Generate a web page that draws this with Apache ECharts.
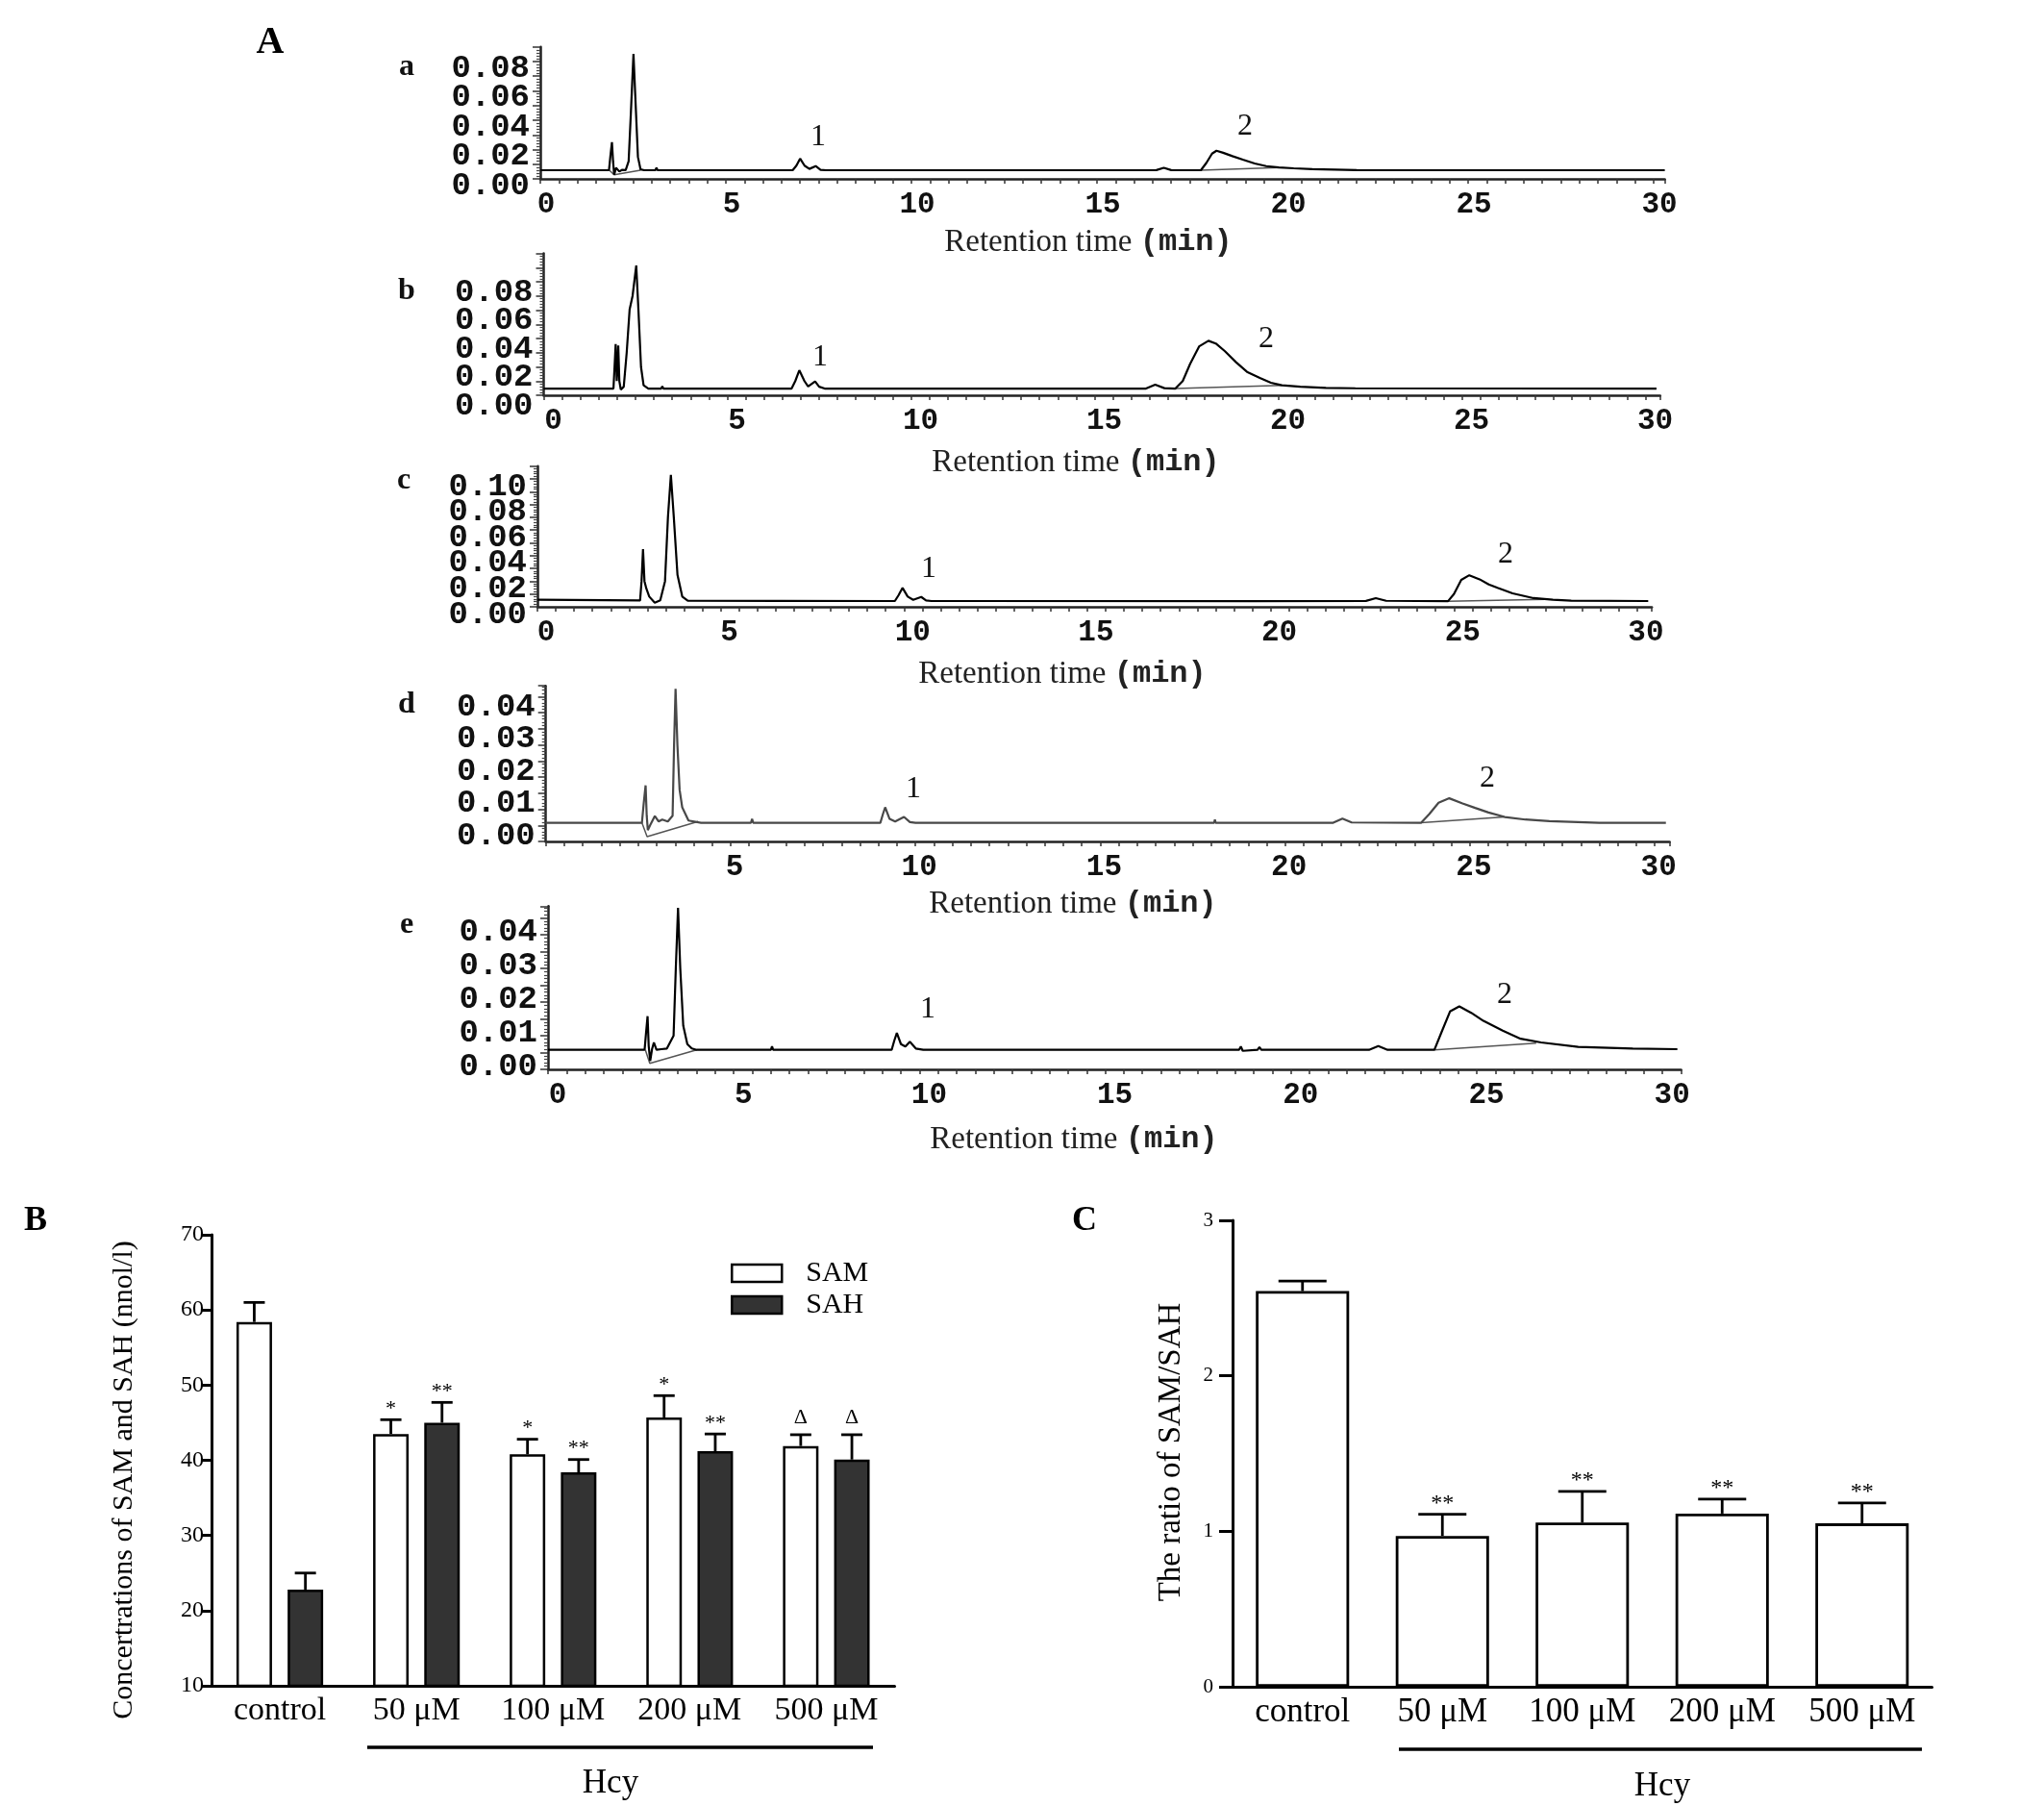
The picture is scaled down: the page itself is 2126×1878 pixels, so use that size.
<!DOCTYPE html>
<html><head><meta charset="utf-8">
<script src="https://cdn.jsdelivr.net/npm/echarts@6/dist/echarts.min.js"></script>
<style>html,body{margin:0;padding:0;background:#fff}#c{width:2126px;height:1878px}</style>
</head><body><div id="c"></div>
<script>
// ===== Panel A: HPLC chromatograms, [retention time (min), absorbance] =====
const traceA = [[0,0.0059],[1.85,0.0059],[1.89,0.016],[1.93,0.025],[1.96,0.012],[1.99,0.0028],[2.04,0.0075],[2.08,0.0087],[2.13,0.005],[2.2,0.0062],[2.3,0.006],[2.38,0.012],[2.44,0.045],[2.51,0.0852],[2.57,0.05],[2.63,0.015],[2.7,0.0065],[2.8,0.0059],[3.1,0.0059],[3.13,0.0075],[3.16,0.0059],[4.5,0.0059],[4.53,0.007],[4.56,0.0059],[6.8,0.0059],[6.9,0.009],[7.0,0.0138],[7.12,0.009],[7.25,0.0068],[7.42,0.0087],[7.55,0.0062],[7.7,0.0059],[14.2,0.0059],[14.25,0.0068],[14.3,0.0059],[16.6,0.006],[16.8,0.0075],[17.0,0.006],[17.8,0.0059],[17.95,0.011],[18.1,0.0172],[18.22,0.0192],[18.4,0.0178],[18.65,0.0155],[18.93,0.0131],[19.25,0.0105],[19.56,0.0087],[19.9,0.0078],[20.3,0.0072],[20.8,0.0066],[22,0.006],[30.3,0.0059]];
const baseA = [[[1.86,0.0059],[1.99,0.0028],[2.7,0.0059]], [[17.8,0.0059],[19.9,0.0077]]];

const traceB = [[0,0.0047],[1.9,0.0047],[1.93,0.02],[1.96,0.036],[1.99,0.01],[2.01,0.02],[2.03,0.035],[2.06,0.01],[2.1,0.004],[2.18,0.006],[2.26,0.03],[2.34,0.0605],[2.42,0.07],[2.52,0.0915],[2.58,0.06],[2.65,0.02],[2.72,0.007],[2.85,0.0047],[3.2,0.0047],[3.23,0.0062],[3.26,0.0047],[6.75,0.0047],[6.85,0.01],[6.96,0.0176],[7.1,0.01],[7.2,0.0062],[7.39,0.0097],[7.5,0.006],[7.65,0.0047],[16.4,0.0047],[16.65,0.0075],[16.9,0.005],[17.2,0.0047],[17.4,0.01],[17.6,0.022],[17.85,0.0345],[18.1,0.0384],[18.3,0.0365],[18.55,0.031],[18.85,0.0233],[19.15,0.0165],[19.5,0.0122],[19.8,0.0088],[20.1,0.007],[20.6,0.006],[21.3,0.0052],[22.1,0.0049],[30.3,0.0047]];
const baseB = [[[17.2,0.0047],[20.1,0.007]]];

const traceC = [[0,0.0055],[2.8,0.005],[2.84,0.02],[2.88,0.045],[2.92,0.02],[2.97,0.0143],[3.05,0.008],[3.2,0.0032],[3.35,0.005],[3.48,0.02],[3.56,0.07],[3.64,0.1032],[3.72,0.07],[3.82,0.025],[3.95,0.008],[4.1,0.0048],[6.55,0.0046],[6.6,0.006],[6.65,0.0046],[9.75,0.0045],[9.85,0.009],[9.96,0.0148],[10.1,0.008],[10.25,0.0055],[10.47,0.0077],[10.6,0.005],[10.75,0.0045],[12.0,0.0045],[12.03,0.0055],[12.06,0.0045],[19.5,0.0044],[19.53,0.0055],[19.56,0.0044],[22.6,0.0046],[22.87,0.0068],[23.15,0.0047],[24.84,0.0044],[25.0,0.01],[25.2,0.021],[25.42,0.0247],[25.7,0.0215],[25.95,0.0175],[26.19,0.0148],[26.6,0.0105],[27.17,0.0068],[27.7,0.0055],[28.2,0.0048],[30.3,0.0045]];
const baseC = [[[24.84,0.0044],[27.5,0.0058]]];

const traceD = [[0,0.0058],[2.6,0.0058],[2.65,0.012],[2.7,0.0174],[2.73,0.008],[2.76,0.0035],[2.82,0.005],[2.95,0.0079],[3.05,0.0062],[3.15,0.0068],[3.3,0.0062],[3.43,0.008],[3.47,0.03],[3.51,0.0474],[3.56,0.03],[3.62,0.016],[3.69,0.0106],[3.86,0.0065],[4.2,0.0058],[5.55,0.0058],[5.58,0.007],[5.61,0.0058],[9.05,0.0058],[9.12,0.0085],[9.18,0.0106],[9.3,0.007],[9.45,0.0062],[9.69,0.0076],[9.85,0.006],[10,0.0058],[18.08,0.0058],[18.1,0.0068],[18.12,0.0058],[21.3,0.0058],[21.55,0.0071],[21.8,0.0059],[23.68,0.0058],[23.9,0.0085],[24.15,0.012],[24.44,0.0134],[24.8,0.0118],[25.14,0.0104],[25.5,0.009],[25.94,0.0076],[26.5,0.0068],[27.15,0.0063],[28.5,0.0058],[30.3,0.0058]];
const baseD = [[[2.6,0.0058],[2.74,0.0015],[4.12,0.0062]], [[23.68,0.0058],[25.94,0.0076]]];

const traceE = [[0,0.0058],[2.6,0.0058],[2.64,0.011],[2.68,0.0158],[2.71,0.007],[2.75,0.0025],[2.8,0.006],[2.85,0.008],[2.92,0.0058],[3.05,0.006],[3.2,0.0062],[3.38,0.01],[3.44,0.03],[3.5,0.048],[3.56,0.03],[3.64,0.013],[3.75,0.0075],[3.87,0.0062],[4.0,0.0058],[6.0,0.0058],[6.03,0.0068],[6.06,0.0058],[9.25,0.0058],[9.32,0.0085],[9.39,0.0108],[9.5,0.0075],[9.62,0.0068],[9.74,0.0082],[9.9,0.0062],[10.1,0.0058],[18.6,0.0058],[18.65,0.0068],[18.7,0.0055],[19.1,0.0058],[19.15,0.0066],[19.2,0.0058],[22.1,0.0058],[22.35,0.0069],[22.6,0.0058],[23.86,0.0058],[24.05,0.011],[24.28,0.0172],[24.53,0.0187],[24.85,0.0168],[25.18,0.0144],[25.7,0.0115],[26.18,0.0091],[26.73,0.008],[27.73,0.0067],[29.2,0.0062],[30.4,0.006]];
const baseE = [[[2.62,0.0058],[2.74,0.0018],[4.0,0.0058]], [[23.86,0.0058],[26.6,0.0078]]];

const panelLetters = ['a','b','c','d','e'];
const peakNames = ['1','2'];

// ===== Panel B: SAM / SAH concentrations (nmol/l) =====
const groups = ['control','50 μM','100 μM','200 μM','500 μM'];
const samMean = [58.4, 43.5, 40.8, 45.7, 41.9];
const samUpper = [61.0, 45.4, 42.8, 48.6, 43.4];
const sahMean = [22.8, 45.0, 38.4, 41.2, 40.1];
const sahUpper = [25.0, 47.7, 40.1, 43.5, 43.4];
const samMark = ['', '*', '*', '*', 'Δ'];
const sahMark = ['', '**', '**', '**', 'Δ'];
const bTicks = [10, 20, 30, 40, 50, 60, 70];

// ===== Panel C: SAM/SAH ratio =====
const ratioMean = [2.545, 0.97, 1.056, 1.114, 1.051];
const ratioUpper = [2.61, 1.11, 1.257, 1.207, 1.182];
const ratioMark = ['', '**', '**', '**', '**'];
const cTicks = [0, 1, 2, 3];

// ---------------------------------------------------------------
const SERIF = '"Liberation Serif","Times New Roman",serif';
const MONO = '"Liberation Mono","Courier New",monospace';

const traces = [traceA, traceB, traceC, traceD, traceE];
const bases = [baseA, baseB, baseC, baseD, baseE];
const layout = [
  {left:562,   axisY:186,  ppm:38.6,  ppv:15.25, xMax:30.3, yMax:0.09,  yLab:0.02, yTick:0.01, dy:7,  dx:6,  zero:true,  color:'#000', letter:[423,70],  title:[1132,252], peaks:[[851,143],[1295,132]]},
  {left:565.5, axisY:411,  ppm:38.2,  ppv:14.75, xMax:30.4, yMax:0.10,  yLab:0.02, yTick:0.01, dy:11, dx:10, zero:true,  color:'#000', letter:[423,303], title:[1119,481], peaks:[[853,372],[1317,353]]},
  {left:559,   axisY:631,  ppm:38.13, ppv:13.3,  xMax:30.4, yMax:0.11,  yLab:0.02, yTick:0.01, dy:8,  dx:9,  zero:true,  color:'#000', letter:[420,500], title:[1105,701], peaks:[[966,592],[1566,577]]},
  {left:567.7, axisY:875,  ppm:38.45, ppv:33.5,  xMax:30.4, yMax:0.0483,yLab:0.01, yTick:0.005,dy:-6, dx:4,  zero:false, color:'#484848', letter:[423,733], title:[1116,940], peaks:[[950,821],[1547,810]]},
  {left:570,   axisY:1112, ppm:38.64, ppv:35,    xMax:30.5, yMax:0.0485,yLab:0.01, yTick:0.005,dy:-3, dx:10, zero:true,  color:'#000', letter:[423,962], title:[1117,1185], peaks:[[965,1050],[1565,1035]]}
];

const isMult = (v, s) => Math.abs(v / s - Math.round(v / s)) < 1e-6;

const grid = [], xAxis = [], yAxis = [], series = [], graphic = [];

layout.forEach((L, i) => {
  const h = L.yMax * L.ppv * 100;
  grid.push({left: L.left, top: L.axisY - h, width: L.xMax * L.ppm, height: h});
  xAxis.push({
    gridIndex: i, type: 'value', min: 0, max: L.xMax, interval: 0.5,
    axisLine: {lineStyle: {color: '#222', width: 2.5}},
    axisTick: {length: 5, lineStyle: {color: '#333', width: 1.5}},
    splitLine: {show: false},
    axisLabel: {
      formatter: v => (isMult(v, 5) && (L.zero || v > 0)) ? '{t|' + Math.round(v) + '}' : '',
      margin: 12,
      rich: {t: {fontFamily: MONO, fontWeight: 'bold', fontSize: 31, color: '#111', padding: [0, 0, 0, 2 * L.dx]}}
    }
  });
  yAxis.push({
    gridIndex: i, type: 'value', min: 0, max: L.yMax, interval: L.yTick,
    axisLine: {show: true, lineStyle: {color: '#222', width: 2.5}},
    axisTick: {show: true, length: 8, lineStyle: {color: '#333', width: 1.5}},
    minorTick: {show: true, splitNumber: 5, length: 4, lineStyle: {color: '#444', width: 1.2}},
    splitLine: {show: false}, minorSplitLine: {show: false},
    axisLabel: {
      formatter: v => (isMult(v, L.yLab) && v <= L.yMax - L.yLab * 0.3) ? '{t|' + v.toFixed(2) + '}' : '',
      margin: 11,
      rich: {t: {fontFamily: MONO, fontWeight: 'bold', fontSize: 34, color: '#111',
        padding: L.dy >= 0 ? [2 * L.dy, 0, 0, 0] : [0, 0, -2 * L.dy, 0]}}
    }
  });
  series.push({
    type: 'line', xAxisIndex: i, yAxisIndex: i, data: traces[i], showSymbol: false,
    lineStyle: {color: L.color, width: 2.2}, z: 3, silent: true, animation: false
  });
  bases[i].forEach(seg => series.push({
    type: 'line', xAxisIndex: i, yAxisIndex: i, data: seg, showSymbol: false,
    lineStyle: {color: '#555', width: 1.5}, z: 2, silent: true, animation: false
  }));
  graphic.push({type: 'text', x: L.letter[0], y: L.letter[1],
    style: {text: panelLetters[i], font: 'bold 32px ' + SERIF, fill: '#111', align: 'center', verticalAlign: 'middle'}});
  graphic.push({type: 'text', x: L.title[0], y: L.title[1],
    style: {text: '{s|Retention time }{m|(min)}', align: 'center', verticalAlign: 'middle',
      rich: {s: {font: '33px ' + SERIF, fill: '#222'}, m: {font: 'bold 32px ' + MONO, fill: '#222'}}}});
  L.peaks.forEach((p, k) => graphic.push({type: 'text', x: p[0], y: p[1],
    style: {text: peakNames[k], font: '32px ' + SERIF, fill: '#111', align: 'center', verticalAlign: 'middle'}}));
});

// ----- Panel B -----
const gB = grid.length;
grid.push({left: 220, top: 1284, width: 710.5, height: 469});
xAxis.push({gridIndex: gB, type: 'category', data: groups,
  axisLine: {lineStyle: {color: '#000', width: 3}}, axisTick: {show: false},
  axisLabel: {fontFamily: SERIF, fontSize: 34, color: '#000', margin: 9}});
yAxis.push({gridIndex: gB, type: 'value', min: bTicks[0], max: bTicks[bTicks.length - 1], interval: 10,
  axisLine: {show: true, lineStyle: {color: '#000', width: 3}},
  axisTick: {show: true, length: 10, lineStyle: {color: '#000', width: 3}},
  splitLine: {show: false},
  axisLabel: {fontFamily: SERIF, fontSize: 24, color: '#000', margin: 8}});
const BW = 0.26, BG = 0.44;
series.push({name: 'SAM', type: 'bar', xAxisIndex: gB, yAxisIndex: gB, data: samMean,
  barWidth: (BW * 100) + '%', barGap: (BG * 100) + '%',
  itemStyle: {color: '#fff', borderColor: '#000', borderWidth: 2.5}, animation: false});
series.push({name: 'SAH', type: 'bar', xAxisIndex: gB, yAxisIndex: gB, data: sahMean,
  barWidth: (BW * 100) + '%', barGap: (BG * 100) + '%',
  itemStyle: {color: '#333', borderColor: '#000', borderWidth: 2.5}, animation: false});

function errRender(side, bwFrac, gapFrac, cap, marks, font) {
  return function (params, api) {
    const i = api.value(0), m = api.value(1), u = api.value(2);
    const band = api.size([1, 0])[0];
    const bw = band * bwFrac;
    const off = side * bw * (1 + gapFrac) / 2;
    const p = api.coord([i, m]), q = api.coord([i, u]);
    const x = p[0] + off;
    const st = {stroke: '#000', lineWidth: 2.8};
    const mk = marks[params.dataIndex];
    const dyMark = mk === 'Δ' ? 18 : 11;
    return {type: 'group', children: [
      {type: 'line', shape: {x1: x, y1: p[1], x2: x, y2: q[1]}, style: st},
      {type: 'line', shape: {x1: x - cap / 2, y1: q[1], x2: x + cap / 2, y2: q[1]}, style: st},
      {type: 'text', x: x, y: q[1] - dyMark, style: {text: mk, font: font, fill: '#000', align: 'center', verticalAlign: 'middle'}}
    ]};
  };
}
series.push({type: 'custom', xAxisIndex: gB, yAxisIndex: gB, z: 4, animation: false,
  renderItem: errRender(-1, BW, BG, 22, samMark, '22px ' + SERIF),
  data: samMean.map((m, i) => [i, m, samUpper[i]])});
series.push({type: 'custom', xAxisIndex: gB, yAxisIndex: gB, z: 4, animation: false,
  renderItem: errRender(1, BW, BG, 22, sahMark, '22px ' + SERIF),
  data: sahMean.map((m, i) => [i, m, sahUpper[i]])});

// ----- Panel C -----
const gC = grid.length;
grid.push({left: 1282, top: 1269, width: 727.5, height: 485});
xAxis.push({gridIndex: gC, type: 'category', data: groups,
  axisLine: {lineStyle: {color: '#000', width: 3}}, axisTick: {show: false},
  axisLabel: {fontFamily: SERIF, fontSize: 35, color: '#000', margin: 9}});
yAxis.push({gridIndex: gC, type: 'value', min: cTicks[0], max: cTicks[cTicks.length - 1], interval: 1,
  axisLine: {show: true, lineStyle: {color: '#000', width: 3}},
  axisTick: {show: true, length: 14, lineStyle: {color: '#000', width: 3}},
  splitLine: {show: false},
  axisLabel: {fontFamily: SERIF, fontSize: 21, color: '#000', margin: 20}});
series.push({name: 'ratio', type: 'bar', xAxisIndex: gC, yAxisIndex: gC, data: ratioMean,
  barWidth: '66.7%', itemStyle: {color: '#fff', borderColor: '#000', borderWidth: 2.8}, animation: false});
series.push({type: 'custom', xAxisIndex: gC, yAxisIndex: gC, z: 4, animation: false,
  renderItem: errRender(0, 0.667, 0, 50, ratioMark, '24px ' + SERIF),
  data: ratioMean.map((m, i) => [i, m, ratioUpper[i]])});

// ----- labels and decorations -----
graphic.push(
  {type: 'text', x: 281, y: 45, style: {text: 'A', font: 'bold 40px ' + SERIF, fill: '#000', align: 'center', verticalAlign: 'middle'}},
  {type: 'text', x: 37, y: 1270, style: {text: 'B', font: 'bold 36px ' + SERIF, fill: '#000', align: 'center', verticalAlign: 'middle'}},
  {type: 'text', x: 1128, y: 1270, style: {text: 'C', font: 'bold 36px ' + SERIF, fill: '#000', align: 'center', verticalAlign: 'middle'}},
  {type: 'text', x: 129, y: 1539, rotation: Math.PI / 2,
    style: {text: 'Concertrations of SAM and SAH (nnol/l)', font: '30px ' + SERIF, fill: '#000', align: 'center', verticalAlign: 'middle'}},
  {type: 'text', x: 1218, y: 1510, rotation: Math.PI / 2,
    style: {text: 'The ratio of SAM/SAH', font: '33px ' + SERIF, fill: '#000', align: 'center', verticalAlign: 'middle'}},
  {type: 'line', shape: {x1: 382, y1: 1817, x2: 908, y2: 1817}, style: {stroke: '#000', lineWidth: 3.5}},
  {type: 'line', shape: {x1: 1455, y1: 1819, x2: 1999, y2: 1819}, style: {stroke: '#000', lineWidth: 3.5}},
  {type: 'text', x: 635, y: 1855, style: {text: 'Hcy', font: '35px ' + SERIF, fill: '#000', align: 'center', verticalAlign: 'middle'}},
  {type: 'text', x: 1729, y: 1858, style: {text: 'Hcy', font: '35px ' + SERIF, fill: '#000', align: 'center', verticalAlign: 'middle'}}
);

const chart = echarts.init(document.getElementById('c'), null, {renderer: 'canvas'});
chart.setOption({
  backgroundColor: '#fff',
  animation: false,
  grid, xAxis, yAxis, series, graphic,
  legend: {
    data: ['SAM', 'SAH'], orient: 'vertical', left: 755, top: 1304,
    itemWidth: 52, itemHeight: 18, itemGap: 3, icon: 'rect',
    itemStyle: {borderColor: '#000', borderWidth: 2.5},
    textStyle: {fontFamily: SERIF, fontSize: 30, color: '#000', padding: [0, 0, 0, 20]}
  }
});
</script>
</body></html>
